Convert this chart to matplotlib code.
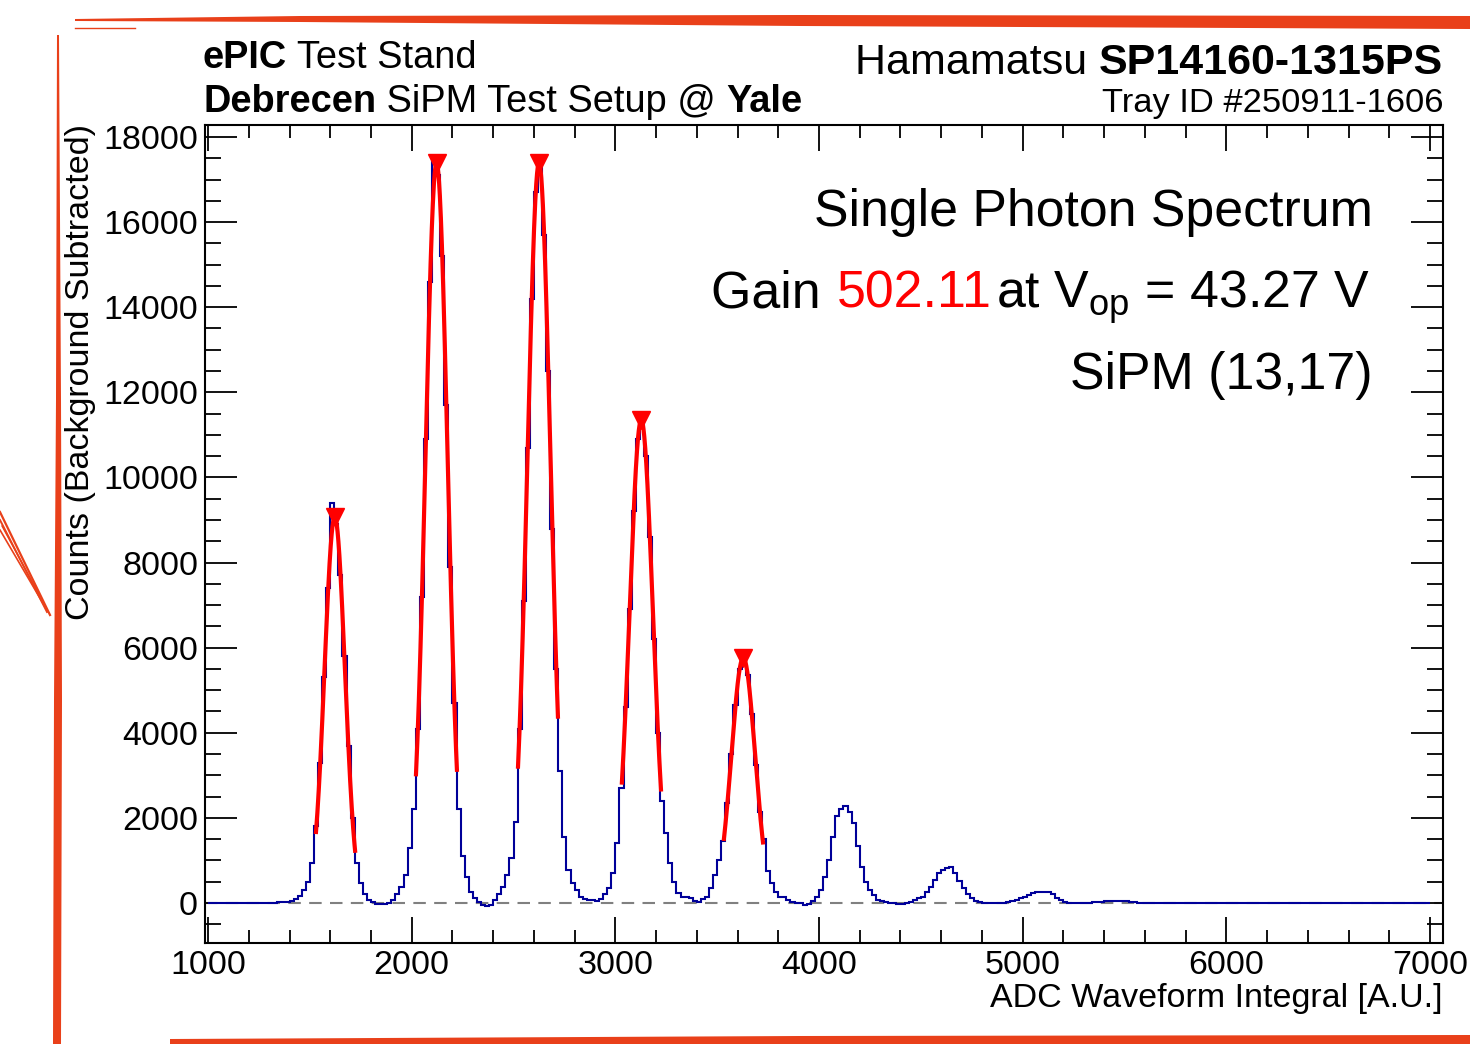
import numpy as np
import matplotlib
matplotlib.use("Agg")
import matplotlib.pyplot as plt
from matplotlib.ticker import MultipleLocator
from matplotlib.patches import Polygon
from matplotlib.lines import Line2D

plt.rcParams['font.family'] = ['Liberation Sans', 'DejaVu Sans']
plt.rcParams['mathtext.fontset'] = 'custom'
plt.rcParams['mathtext.rm'] = 'Liberation Sans'
plt.rcParams['mathtext.it'] = 'Liberation Sans:italic'
plt.rcParams['mathtext.bf'] = 'Liberation Sans:bold'

W, H = 1470, 1044

# histogram, 20 ADC wide bins from 1000 (10 bins per row)
bin_start = 1000
bin_width = 20
counts = [
    0, 3, -2, 1, 4, -3, 2, 0, 5, -1,                                   # 1000
    3, 2, -2, 4, 6, 3, 8, 12, 18, 30,                                  # 1200
    50, 95, 170, 300, 500, 950, 1800, 3300, 5300, 7400,                # 1400
    9400, 8900, 7700, 5800, 3700, 2000, 950, 480, 200, 70,             # 1600
    20, -20, -30, -25, -10, 60, 220, 380, 650, 1300,                   # 1800
    2200, 4100, 7200, 10900, 14600, 17450, 17100, 15200, 11700, 7900,  # 2000
    4700, 2200, 1100, 600, 270, 110, 25, -40, -60, -50,                # 2200
    60, 200, 380, 650, 1050, 1900, 4100, 7100, 10700, 14200,           # 2400
    16700, 17300, 15700, 12500, 8800, 5500, 3100, 1550, 780, 480,      # 2600
    300, 140, 90, 75, 60, 50, 100, 200, 350, 700,                      # 2800
    1400, 2700, 4600, 6900, 9200, 10900, 11300, 10500, 8600, 6200,     # 3000
    4000, 2400, 1650, 950, 500, 240, 150, 130, 110, 40,                # 3200
    30, 100, 150, 350, 650, 1000, 1450, 2350, 3500, 4650,              # 3400
    5500, 5750, 5350, 4450, 3250, 2150, 1500, 750, 480, 260,           # 3600
    150, 130, 80, 30, 10, 0, -50, -20, 40, 140,                        # 3800
    300, 600, 1000, 1550, 2050, 2200, 2280, 2150, 1880, 1350,          # 4000
    850, 500, 300, 180, 80, 50, 20, 0, -10, -20,                       # 4200
    -25, -10, 20, 60, 110, 130, 250, 370, 550, 700,                    # 4400
    770, 820, 840, 700, 520, 350, 200, 110, 40, 20,                    # 4600
    10, 5, 0, -5, 0, 5, 20, 40, 60, 110,                               # 4800
    140, 180, 230, 250, 260, 270, 250, 200, 120, 70,                   # 5000
    30, 10, 5, 0, -10, -5, 5, 15, 20, 30,                              # 5200
    40, 45, 50, 45, 55, 40, 30, 20, 10, 0,                             # 5400
    -5, 3, 8, 2, -4, 6, 10, 3, -2, 5,                                  # 5600
    7, 1, -3, 4, 9, 2, -1, 6, 3, 0,                                    # 5800
    4, -2, 5, 8, 1, -4, 3, 7, 2, -1,                                   # 6000
    5, 3, -3, 6, 2, 0, 4, -2, 7, 1,                                    # 6200
    -1, 4, 2, 6, -3, 3, 5, 0, 2, -2,                                   # 6400
    3, 1, 4, -2, 5, 2, 0, 3, -1, 2,                                    # 6600
    1, 3, -2, 2, 0, 4, 1, -1, 2, 0,                                    # 6800
]

# gaussian fits of the first five photo-electron peaks
fit_mean = [1622, 2122, 2625, 3127, 3628]
fit_amp = [9070, 17390, 17390, 11350, 5760]
fit_sigma = [50, 54, 56, 57, 58]
fit_lo = [1530, 2021, 2522, 3032, 3533]
fit_hi = [1722, 2222, 2718, 3224, 3725]

x_ticks_major, x_ticks_minor = 1000, 200
y_ticks_major, y_ticks_minor = 2000, 500

fig = plt.figure(figsize=(W / 100, H / 100), dpi=100)
ax = fig.add_axes([205 / W, 1 - 943 / H, (1443 - 205) / W, (943 - 125) / H])

edges = bin_start + bin_width * np.arange(len(counts) + 1)
ax.stairs(counts, edges, baseline=None, color='#000099', lw=1.5, zorder=2)
ax.axhline(0, color='#808080', lw=1.5, ls=(0, (6, 4)), zorder=1)

for mu, a, s, lo, hi in zip(fit_mean, fit_amp, fit_sigma, fit_lo, fit_hi):
    xx = np.linspace(lo, hi, 200)
    ax.plot(xx, a * np.exp(-(xx - mu) ** 2 / (2 * s ** 2)), color='#ff0000', lw=3, zorder=3)
ax.plot(fit_mean, fit_amp, 'v', color='#ff0000', ms=13, zorder=4)

ax.set_xlim(985, 7064)
ax.set_ylim(-940, 18282)
ax.xaxis.set_major_locator(MultipleLocator(x_ticks_major))
ax.xaxis.set_minor_locator(MultipleLocator(x_ticks_minor))
ax.yaxis.set_major_locator(MultipleLocator(y_ticks_major))
ax.yaxis.set_minor_locator(MultipleLocator(y_ticks_minor))
ax.tick_params(which='both', direction='in', top=True, right=True, width=1.3,
               labelsize=24.5, colors='black')
ax.tick_params(axis='x', which='major', length=19, pad=5)
ax.tick_params(axis='x', which='minor', length=9.5)
ax.tick_params(axis='y', which='major', length=23, pad=5)
ax.tick_params(axis='y', which='minor', length=11.5)
for sp in ax.spines.values():
    sp.set_linewidth(1.5)

fig.text(81 / W, 1 - 124 / H, 'Counts (Background Subtracted)', rotation=90,
         ha='center', va='top', fontsize=24.5)
fig.text(1443 / W, 1 - 999 / H, 'ADC Waveform Integral [A.U.]',
         ha='right', va='center', fontsize=24.5)

renderer = fig.canvas.get_renderer()


def rich(x, y, parts, size, ha='left'):
    # parts: (text, weight, color, gap after in px); x, y in px from top left, y = baseline
    widths = []
    texts = []
    for s, wgt, col, gap in parts:
        t = fig.text(0, 0, s, fontsize=size, fontweight=wgt, color=col,
                     ha='left', va='baseline')
        texts.append(t)
        widths.append(t.get_window_extent(renderer).width + gap)
    cur = x if ha == 'left' else x - sum(widths)
    for t, w in zip(texts, widths):
        t.set_position((cur / W, 1 - y / H))
        cur += w


rich(203, 68, [('ePIC', 'bold', 'k', 0), (' Test Stand', 'normal', 'k', 0)], 27.4)
rich(203, 112, [('Debrecen', 'bold', 'k', 0), (' SiPM Test Setup @ ', 'normal', 'k', 0),
                ('Yale', 'bold', 'k', 0)], 27.4)
rich(1443, 74, [('Hamamatsu ', 'normal', 'k', 0), ('SP14160-1315PS', 'bold', 'k', 0)], 31,
     ha='right')
rich(1443, 112, [('Tray ID #250911-1606', 'normal', 'k', 0)], 24.8, ha='right')

rich(1373, 226, [('Single Photon Spectrum', 'normal', 'k', 0)], 37.4, ha='right')
rich(1370, 308, [('Gain ', 'normal', 'k', 2), ('502.11', 'normal', '#ff0000', 4),
                 (r'at V$_{\mathrm{op}}$ = 43.27 V', 'normal', 'k', 0)], 37.4, ha='right')
rich(1373, 389, [('SiPM (13,17)', 'normal', 'k', 0)], 37.4, ha='right')

# hand drawn orange frame strokes
orange = '#e9401a'


def px(pts):
    return [(x / W, 1 - y / H) for x, y in pts]


fig.patches.append(Polygon(px([(75, 19), (300, 16), (800, 15), (1470, 16),
                               (1470, 29), (800, 26), (300, 22), (75, 21)]),
                           closed=True, fc=orange, ec='none', transform=fig.transFigure))
fig.patches.append(Polygon(px([(57, 35), (59, 35), (61, 400), (62, 700), (61, 1044),
                               (53, 1044), (54, 700), (56, 400)]),
                           closed=True, fc=orange, ec='none', transform=fig.transFigure))
fig.patches.append(Polygon(px([(170, 1039), (800, 1036), (1470, 1035),
                               (1470, 1044), (170, 1044)]),
                           closed=True, fc=orange, ec='none', transform=fig.transFigure))
for (x0, y0, x1, y1, lw) in [(75, 28, 135, 28, 1.0), (0, 512, 50, 615, 1.6),
                             (0, 520, 47, 612, 1.4), (0, 530, 44, 605, 1.2),
                             (2, 526, 40, 596, 1.0)]:
    fig.lines.append(Line2D([x0 / W, x1 / W], [1 - y0 / H, 1 - y1 / H], color=orange,
                            lw=lw, transform=fig.transFigure))

fig.savefig('out.png', dpi=100)
